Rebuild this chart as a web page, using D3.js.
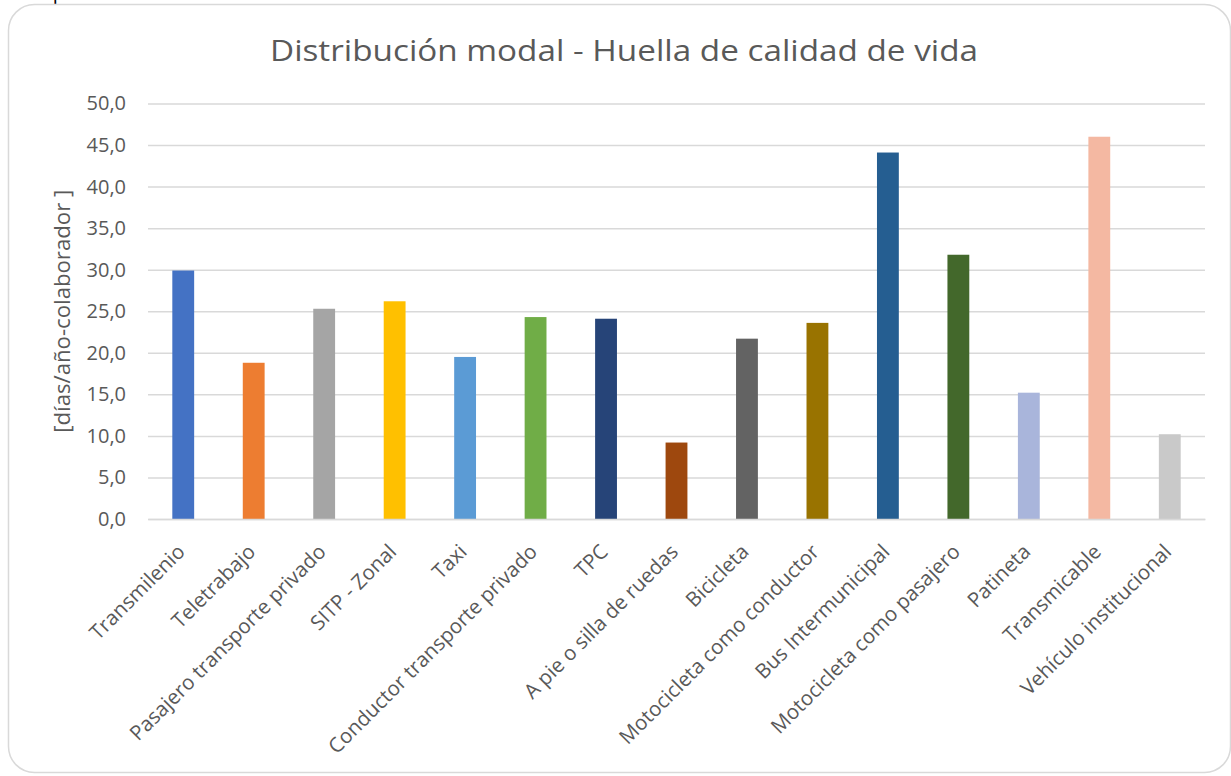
<!DOCTYPE html>
<html>
<head>
<meta charset="utf-8">
<script src="https://cdn.jsdelivr.net/npm/d3@7"></script>
<style>
  body { margin: 0; background: #fff; }
  svg { display: block; }
</style>
</head>
<body>
<div id="chart"></div>
<script>
// chart data
const categories = [
  "Transmilenio", "Teletrabajo", "Pasajero transporte privado", "SITP - Zonal",
  "Taxi", "Conductor transporte privado", "TPC", "A pie o silla de ruedas",
  "Bicicleta", "Motocicleta como conductor", "Bus Intermunicipal",
  "Motocicleta como pasajero", "Patineta", "Transmicable", "Vehículo institucional"
];
const values = [29.9, 18.8, 25.3, 26.2, 19.5, 24.3, 24.1, 9.2, 21.7, 23.6, 44.1, 31.8, 15.2, 46.0, 10.2];
const barColors = [
  "#4472c4", "#ed7d31", "#a5a5a5", "#ffc000", "#5b9bd5", "#70ad47", "#264478", "#9e480e",
  "#636363", "#997300", "#255e91", "#43682b", "#a9b5db", "#f4b8a2", "#c9c9c9"
];
const yTicks = [0, 5, 10, 15, 20, 25, 30, 35, 40, 45, 50];

const width = 1231;
const height = 776;
const margin = { top: 103.5, bottom: 257, left: 148, right: 26 };

const svg = d3.select('#chart')
  .append('svg')
  .attr('width', width)
  .attr('height', height);

// stray glyph from the page above the chart
svg.append('text')
  .attr('x', 53).attr('y', 0)
  .attr('font-family', 'Liberation Serif')
  .attr('font-size', 20)
  .attr('fill', '#000')
  .text('p');

// chart frame
svg.append('rect')
  .attr('x', 8.5).attr('y', 4.5)
  .attr('width', 1222).attr('height', 768)
  .attr('rx', 26)
  .attr('fill', '#fff')
  .attr('stroke', '#d9d9d9')
  .attr('stroke-width', 1.5);

const x = d3.scaleBand()
  .domain(categories)
  .range([margin.left, width - margin.right])
  .paddingInner(0.69)
  .paddingOuter(0.345);

const y = d3.scaleLinear()
  .domain([0, 50])
  .range([height - margin.bottom, margin.top]);

// gridlines + y labels
const yAxis = svg.append('g')
  .attr('transform', `translate(${margin.left},0)`)
  .call(d3.axisLeft(y)
    .tickValues(yTicks)
    .tickSize(-(width - margin.left - margin.right))
    .tickPadding(22)
    .tickFormat(d => d3.format('.1f')(d).replace('.', ',')));
yAxis.select('.domain').remove();
yAxis.selectAll('.tick line').attr('stroke', '#d9d9d9').attr('stroke-width', 1.5);
yAxis.selectAll('.tick text')
  .attr('font-family', 'Open Sans')
  .attr('font-size', 20)
  .attr('fill', '#595959');

// bars
svg.append('g')
  .selectAll('rect')
  .data(values)
  .join('rect')
    .attr('x', (d, i) => x(categories[i]))
    .attr('y', d => y(d))
    .attr('width', x.bandwidth())
    .attr('height', d => y(0) - y(d))
    .attr('fill', (d, i) => barColors[i]);

// x axis
const xAxis = svg.append('g')
  .attr('transform', `translate(0,${y(0)})`)
  .call(d3.axisBottom(x).tickSize(0).tickPadding(0));
xAxis.select('.domain').attr('stroke', '#d9d9d9').attr('stroke-width', 1.5);
xAxis.selectAll('.tick text')
  .attr('font-family', 'Open Sans')
  .attr('font-size', 20.5)
  .attr('fill', '#595959')
  .attr('text-anchor', 'end')
  .attr('dy', null)
  .attr('transform', 'translate(3,34) rotate(-45)');

// title
svg.append('text')
  .attr('x', 624).attr('y', 61)
  .attr('text-anchor', 'middle')
  .attr('font-family', 'Open Sans')
  .attr('font-size', 30)
  .attr('fill', '#595959')
  .attr('textLength', 708)
  .attr('lengthAdjust', 'spacingAndGlyphs')
  .text('Distribución modal - Huella de calidad de vida');

// y axis title
svg.append('text')
  .attr('transform', `translate(70,${(y(0) + y(50)) / 2}) rotate(-90)`)
  .attr('text-anchor', 'middle')
  .attr('font-family', 'Open Sans')
  .attr('font-size', 21)
  .attr('fill', '#595959')
  .attr('textLength', 243)
  .attr('lengthAdjust', 'spacingAndGlyphs')
  .text('[días/año-colaborador ]');
</script>
</body>
</html>
